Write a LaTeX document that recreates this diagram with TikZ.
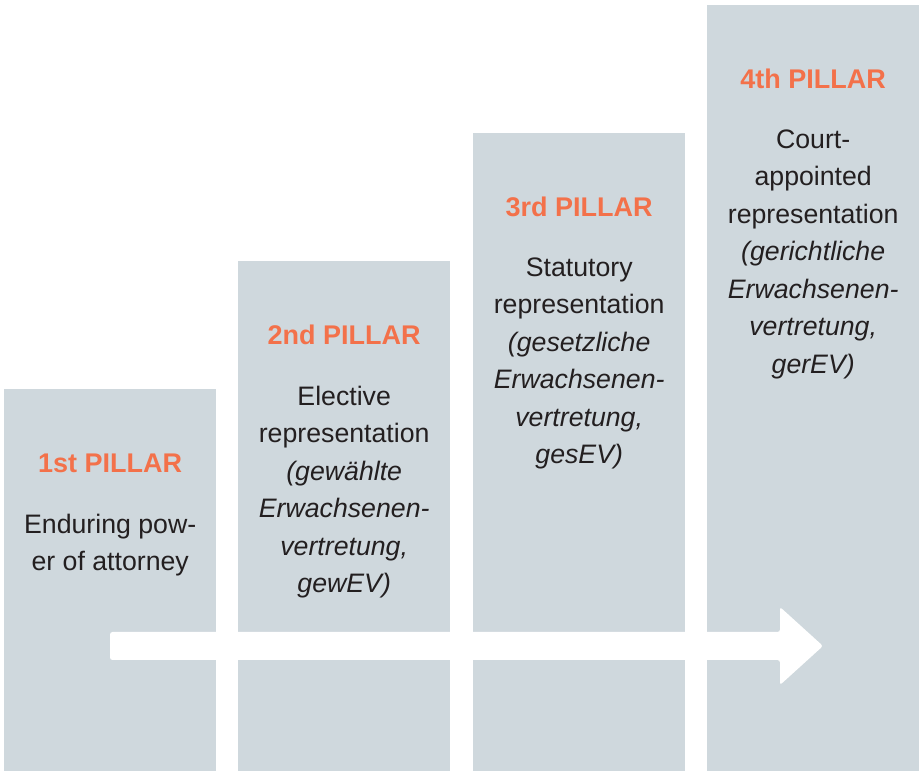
\documentclass[tikz,border=0pt]{standalone}
\usepackage{fontspec}
\setmainfont{Liberation Sans}
\usetikzlibrary{positioning}
\definecolor{pillargray}{RGB}{207,216,221}
\definecolor{pillarorange}{RGB}{243,113,74}
\definecolor{pillartext}{RGB}{35,31,32}

\begin{document}
\begin{tikzpicture}[x=1pt,y=1pt,
    pillar/.style={fill=pillargray,inner sep=0pt,minimum width=212pt,anchor=south west},
    pillartitle/.style={text=pillarorange,font=\fontsize{27}{37.5}\selectfont\bfseries,inner sep=0pt},
    pillarbody/.style={text=pillartext,font=\fontsize{26.7}{37.5}\selectfont,align=center,inner sep=0pt}]
          \useasboundingbox (0,0) rectangle (921,771);
          \node[pillar,minimum height=382pt] (P1) at (4,0) {};
          \node[pillar,minimum height=510pt] (P2) at (238,0) {};
          \node[pillar,minimum height=638pt] (P3) at (473,0) {};
          \node[pillar,minimum height=766pt] (P4) at (707,0) {};
          \node[pillartitle,below=84pt of P1.north,anchor=base] (T1) {1st PILLAR};
          \node[pillartitle,below=84pt of P2.north,anchor=base] (T2) {2nd PILLAR};
          \node[pillartitle,below=84pt of P3.north,anchor=base] (T3) {3rd PILLAR};
          \node[pillartitle,below=84pt of P4.north,anchor=base] (T4) {4th PILLAR};
          \node[pillarbody,below=41pt of T1.base] (B1) {Enduring pow-\\er of attorney};
          \node[pillarbody,below=41pt of T2.base] (B2) {Elective\\representation\\\textit{(gewählte}\\\textit{Erwachsenen-}\\\textit{vertretung,}\\\textit{gewEV)}};
          \node[pillarbody,below=41pt of T3.base] (B3) {Statutory\\representation\\\textit{(gesetzliche}\\\textit{Erwachsenen-}\\\textit{vertretung,}\\\textit{gesEV)}};
          \node[pillarbody,below=41pt of T4.base] (B4) {Court-\\appointed\\representation\\\textit{(gerichtliche}\\\textit{Erwachsenen-}\\\textit{vertretung,}\\\textit{gerEV)}};
          \coordinate (arrowstart) at (110,125);
          \coordinate (arrowtip) at (823,125);
          \fill[white,rounded corners=2.5pt] ([yshift=-14pt]arrowstart) -- ([yshift=14pt]arrowstart)
            -- (780,139) -- (780,164) -- (arrowtip) -- (780,86) -- (780,111) -- cycle;
        \end{tikzpicture}
\end{document}
